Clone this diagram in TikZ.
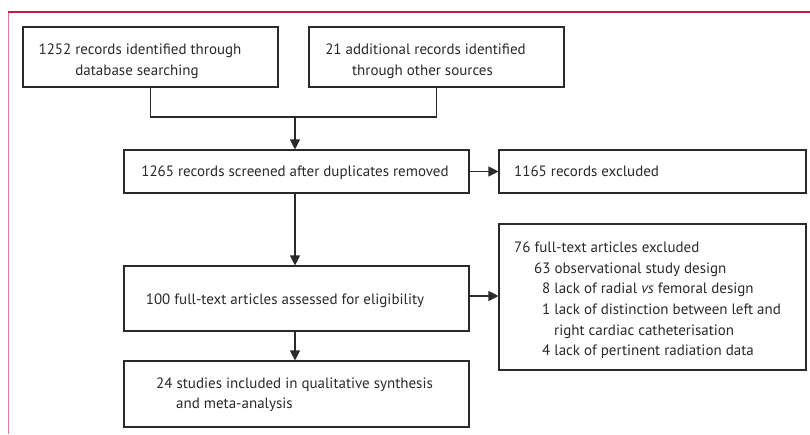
\documentclass[tikz,border=0pt]{standalone}
\usepackage{fontspec}
\setmainfont{PT Sans}
\usetikzlibrary{arrows.meta}
\definecolor{framered}{HTML}{C8184A}
\definecolor{framepink}{HTML}{E27A95}
\definecolor{ink}{HTML}{2A2A2A}
\tikzset{
  box/.style={draw=ink, line width=1.1pt, inner sep=0pt, fill=white},
  txt/.style={inner sep=0pt, anchor=base west, text=ink, font=\fontsize{15}{18}\selectfont},
  ctxt/.style={inner sep=0pt, anchor=base, text=ink, font=\fontsize{15}{18}\selectfont},
  conn/.style={draw=ink, line width=1.1pt},
  arr/.style={conn, -{Triangle[length=10pt,width=10pt]}}
}
\begin{document}
\begin{tikzpicture}[x=1pt,y=-1pt]
\useasboundingbox (0,0) rectangle (810,434);
\draw[framepink, line width=1.4pt] (8.5,434) -- (8.5,12);
\draw[framered, line width=1.4pt] (8,12) -- (810,12);

\node[box, minimum width=255pt, minimum height=60pt] (a) at (150.5,57) {};
\node[box, minimum width=255pt, minimum height=60pt] (b) at (436.5,57) {};
\node[box, minimum width=345pt, minimum height=43pt] (c) at (296.5,171.5) {};
\node[box, minimum width=307pt, minimum height=43pt] (d) at (652.5,171.5) {};
\node[box, minimum width=345pt, minimum height=65pt] (e) at (296.5,298.5) {};
\node[box, minimum width=307pt, minimum height=146pt] (f) at (652.5,297) {};
\node[box, minimum width=345pt, minimum height=66pt] (g) at (296.5,394) {};

\node[ctxt] (a1) at (140,54) {1252 records identified through};
\node[ctxt] (a2) at (137,75) {database searching};
\node[ctxt] (b1) at (425.5,54) {21 additional records identified};
\node[ctxt] (b2) at (422.5,75) {through other sources};
\node[ctxt] (c1) at (295,176) {1265 records screened after duplicates removed};
\node[txt] (d1) at (514,176) {1165 records excluded};
\node[ctxt] (e1) at (285,304) {100 full-text articles assessed for eligibility};
\node[txt] (f1) at (514,252) {76 full-text articles excluded};
\node[txt] (f2) at (534,273) {63 observational study design};
\node[txt] (f3) at (542,293.5) {8 lack of radial \textit{vs} femoral design};
\node[txt] (f4) at (542,314) {1 lack of distinction between left and};
\node[txt] (f5) at (554,335) {right cardiac catheterisation};
\node[txt] (f6) at (542,355.5) {4 lack of pertinent radiation data};
\node[txt] (g1) at (156,388) {24 studies included in qualitative synthesis};
\node[txt] (g2) at (176,408) {and meta-analysis};

\coordinate (j) at (295,117);
\draw[conn] (a.south) |- (j) -| (b.south);
\draw[arr] (j) -- (j |- c.north);
\draw[arr] (c.east) -- (d.west);
\draw[arr] (c.south -| j) -- (e.north -| j);
\draw[arr] ([yshift=2.5pt]e.east) -- ([yshift=2.5pt]e.east -| f.west);
\draw[arr] (e.south -| j) -- (g.north -| j);
\end{tikzpicture}
\end{document}
